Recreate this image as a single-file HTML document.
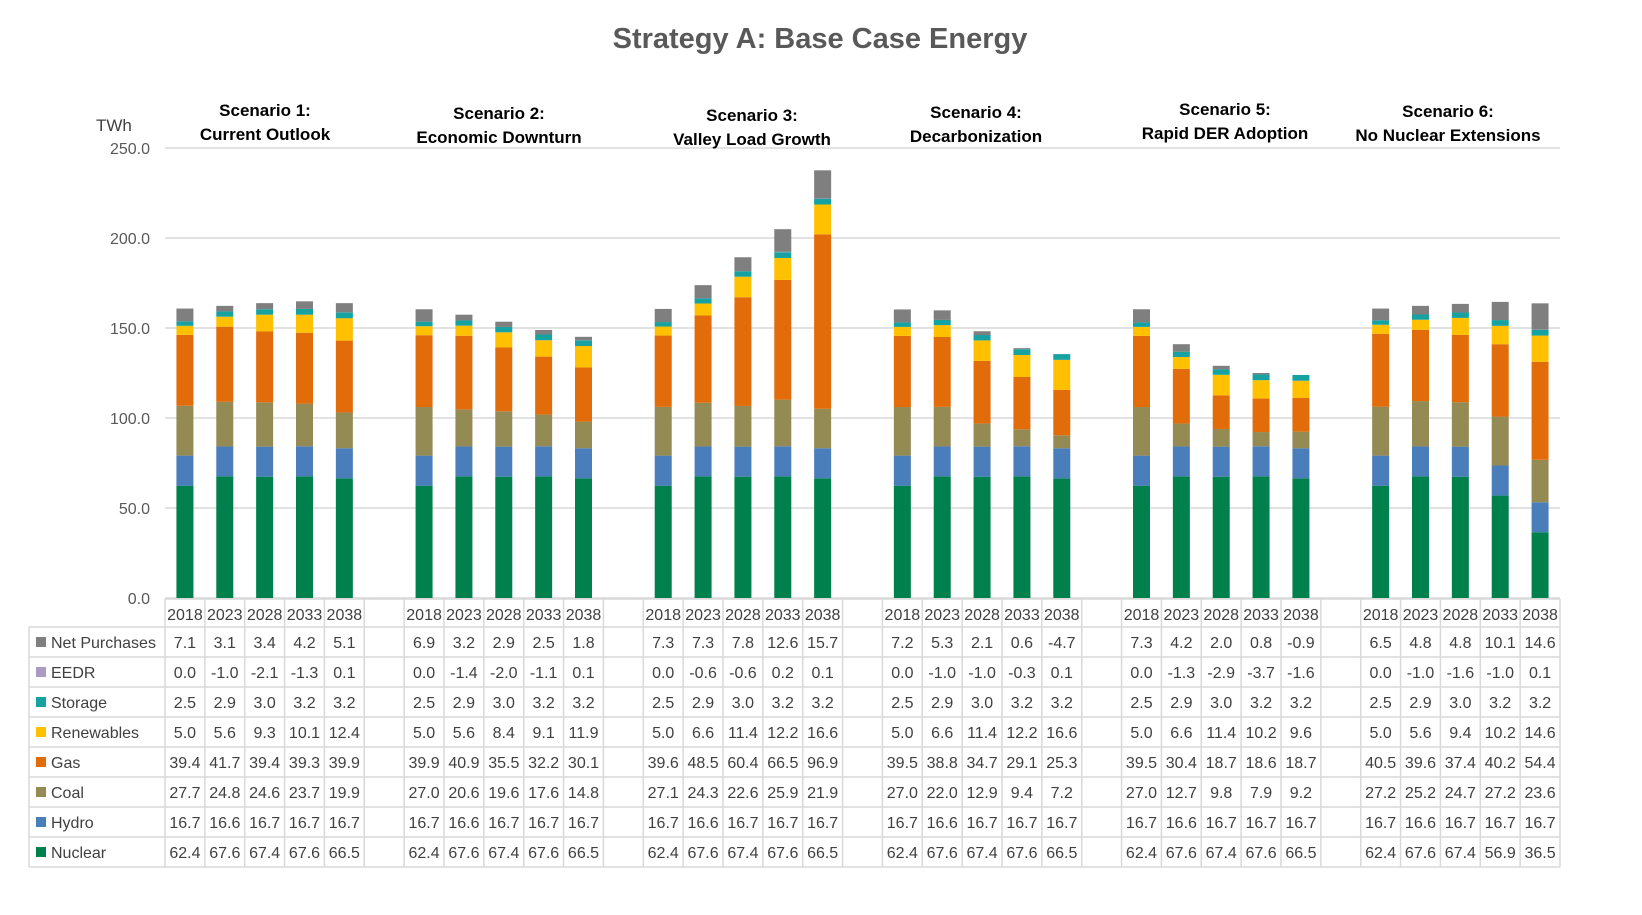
<!DOCTYPE html>
<html><head><meta charset="utf-8"><style>
html,body{margin:0;padding:0;background:#fff;}
svg{display:block;font-family:"Liberation Sans",sans-serif;}
</style></head><body>
<svg id="chart" width="1642" height="915" viewBox="0 0 1642 915">
<text x="820" y="48" text-anchor="middle" font-size="29" font-weight="bold" fill="#595959">Strategy A: Base Case Energy</text>
<text x="96" y="131" font-size="17" fill="#404040">TWh</text>
<g id="grid"></g><g id="bars"></g><g id="yticks"></g><g id="heads"></g><g id="table"></g>
</svg>
<script>
const scenarios=["Scenario 1:|Current Outlook","Scenario 2:|Economic Downturn","Scenario 3:|Valley Load Growth","Scenario 4:|Decarbonization","Scenario 5:|Rapid DER Adoption","Scenario 6:|No Nuclear Extensions"];
const years=["2018","2023","2028","2033","2038"];
const seriesNames=["Net Purchases","EEDR","Storage","Renewables","Gas","Coal","Hydro","Nuclear"];
const netPurchases=[7.1,3.1,3.4,4.2,5.1, 6.9,3.2,2.9,2.5,1.8, 7.3,7.3,7.8,12.6,15.7, 7.2,5.3,2.1,0.6,-4.7, 7.3,4.2,2.0,0.8,-0.9, 6.5,4.8,4.8,10.1,14.6];
const eedr=[0.0,-1.0,-2.1,-1.3,0.1, 0.0,-1.4,-2.0,-1.1,0.1, 0.0,-0.6,-0.6,0.2,0.1, 0.0,-1.0,-1.0,-0.3,0.1, 0.0,-1.3,-2.9,-3.7,-1.6, 0.0,-1.0,-1.6,-1.0,0.1];
const storage=[2.5,2.9,3.0,3.2,3.2, 2.5,2.9,3.0,3.2,3.2, 2.5,2.9,3.0,3.2,3.2, 2.5,2.9,3.0,3.2,3.2, 2.5,2.9,3.0,3.2,3.2, 2.5,2.9,3.0,3.2,3.2];
const renewables=[5.0,5.6,9.3,10.1,12.4, 5.0,5.6,8.4,9.1,11.9, 5.0,6.6,11.4,12.2,16.6, 5.0,6.6,11.4,12.2,16.6, 5.0,6.6,11.4,10.2,9.6, 5.0,5.6,9.4,10.2,14.6];
const gas=[39.4,41.7,39.4,39.3,39.9, 39.9,40.9,35.5,32.2,30.1, 39.6,48.5,60.4,66.5,96.9, 39.5,38.8,34.7,29.1,25.3, 39.5,30.4,18.7,18.6,18.7, 40.5,39.6,37.4,40.2,54.4];
const coal=[27.7,24.8,24.6,23.7,19.9, 27.0,20.6,19.6,17.6,14.8, 27.1,24.3,22.6,25.9,21.9, 27.0,22.0,12.9,9.4,7.2, 27.0,12.7,9.8,7.9,9.2, 27.2,25.2,24.7,27.2,23.6];
const hydro=[16.7,16.6,16.7,16.7,16.7, 16.7,16.6,16.7,16.7,16.7, 16.7,16.6,16.7,16.7,16.7, 16.7,16.6,16.7,16.7,16.7, 16.7,16.6,16.7,16.7,16.7, 16.7,16.6,16.7,16.7,16.7];
const nuclear=[62.4,67.6,67.4,67.6,66.5, 62.4,67.6,67.4,67.6,66.5, 62.4,67.6,67.4,67.6,66.5, 62.4,67.6,67.4,67.6,66.5, 62.4,67.6,67.4,67.6,66.5, 62.4,67.6,67.4,56.9,36.5];
const yTicks=[0,50,100,150,200,250];

const NS="http://www.w3.org/2000/svg";
function mk(parent,tag,attrs,text){const e=document.createElementNS(NS,tag);for(const k in attrs)e.setAttribute(k,attrs[k]);if(text!==undefined)e.textContent=text;parent.appendChild(e);return e;}
const plotL=165,plotR=1560,y0=598,yTop=148,yMax=250;
const colW=(plotR-plotL)/35;
const y=v=>y0-(v/yMax)*(y0-yTop);
const colX=(g,i)=>plotL+(g*6+i)*colW;
const stackData=[nuclear,hydro,coal,gas,renewables,storage,eedr,netPurchases];
const colors=["#00804c","#4a7ebb","#948a54","#e26b0a","#ffc000","#17a2a2","#a99bc4","#7f7f7f"];
const stackNames=["nuclear","hydro","coal","gas","renewables","storage","eedr","net-purchases"];

const grid=document.getElementById('grid'),yt=document.getElementById('yticks');
yTicks.forEach(t=>{
  const l=mk(grid,'line',{x1:plotL,x2:plotR,y1:y(t),y2:y(t),stroke:"#d9d9d9","stroke-width":1.5});
  
  
  const tx=mk(yt,'text',{x:150,y:y(t)+6,"text-anchor":"end","font-size":16,fill:"#595959"},t.toFixed(1));
  
  
});

const bars=document.getElementById('bars');
for(let g=0;g<6;g++)for(let i=0;i<5;i++){
  const k=g*5+i;let base=0;
  const cx=colX(g,i)+colW/2,bw=17;
  stackData.forEach((arr,s)=>{
    const v=arr[k];if(v<=0)return;
    const r=mk(bars,'rect',{x:cx-bw/2,y:y(base+v),width:bw,height:y(base)-y(base+v),fill:colors[s]});
    
    
    base+=v;
  });
}

const heads=document.getElementById('heads');
const headPos=[[265,116],[499,119],[752,121],[976,118],[1225,115],[1448,117]];
scenarios.forEach((s,g)=>{
  const [a,b]=s.split('|');const [hx,hy]=headPos[g];
  const t=mk(heads,'text',{x:hx,"text-anchor":"middle","font-size":17,"font-weight":"bold",fill:"#000"});
  
  
  mk(t,'tspan',{x:hx,y:hy},a);mk(t,'tspan',{x:hx,y:hy+24},b);
});

const tb=document.getElementById('table');
const rowTop=627,rowH=30,yearTop=599,labL=29,tableR=plotL+35*colW;
const gc="#d9d9d9";
mk(tb,'line',{x1:plotL,x2:tableR,y1:yearTop,y2:yearTop,stroke:gc,"stroke-width":1.5});
for(let c=0;c<=35;c++){const x=plotL+c*colW;mk(tb,'line',{x1:x,x2:x,y1:yearTop,y2:rowTop+8*rowH,stroke:gc,"stroke-width":1.5});}
mk(tb,'line',{x1:labL,x2:labL,y1:rowTop,y2:rowTop+8*rowH,stroke:gc,"stroke-width":1.5});
for(let r=0;r<=8;r++){const yy=rowTop+r*rowH;mk(tb,'line',{x1:labL,x2:tableR,y1:yy,y2:yy,stroke:gc,"stroke-width":1.5});}
for(let g=0;g<6;g++)for(let i=0;i<5;i++){
  const t=mk(tb,'text',{x:colX(g,i)+colW/2,y:yearTop+21,"text-anchor":"middle","font-size":16,fill:"#404040"},years[i]);
  
  
}
const rowData=[netPurchases,eedr,storage,renewables,gas,coal,hydro,nuclear];
const rowColors=["#7f7f7f","#a99bc4","#17a2a2","#ffc000","#e26b0a","#948a54","#4a7ebb","#00804c"];
seriesNames.forEach((n,r)=>{
  const yy=rowTop+r*rowH;
  const sw=mk(tb,'rect',{x:36,y:yy+10,width:10,height:10,fill:rowColors[r]});
  
  
  const lt=mk(tb,'text',{x:51,y:yy+21,"font-size":16,fill:"#404040"},n);
  
  
  for(let g=0;g<6;g++)for(let i=0;i<5;i++){
    const t=mk(tb,'text',{x:colX(g,i)+colW/2,y:yy+21,"text-anchor":"middle","font-size":16,fill:"#404040"},rowData[r][g*5+i].toFixed(1));
    
    
  }
});
</script>
</body></html>
